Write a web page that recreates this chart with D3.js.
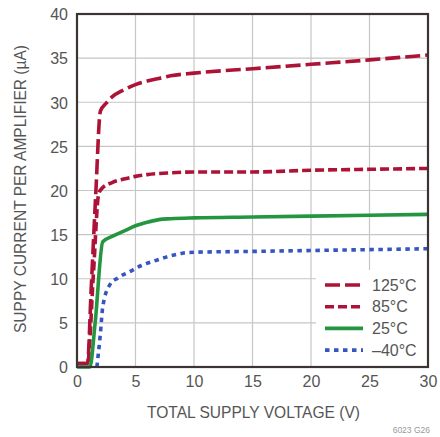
<!DOCTYPE html>
<html>
<head>
<meta charset="utf-8">
<script src="https://cdn.jsdelivr.net/npm/d3@7"></script>
<style>
  html, body { margin: 0; padding: 0; background: #fff; }
  svg { display: block; font-family: "Liberation Sans", Arial, sans-serif; }
</style>
</head>
<body>
<svg id="chart" width="440" height="437"></svg>
<script>
// Supply current vs total supply voltage, one curve per temperature
const xTicks = [0, 5, 10, 15, 20, 25, 30];
const yTicks = [0, 5, 10, 15, 20, 25, 30, 35, 40];

const seriesNames = ["125°C", "85°C", "25°C", "–40°C"];

const v125 = [0, 0.9, 1.2, 1.6, 2.0, 2.5, 3, 4, 5, 6, 7, 8, 10, 15, 20, 25, 30];
const i125 = [0.4, 0.4, 8.5, 19.5, 29.0, 29.9, 30.6, 31.4, 32.0, 32.4, 32.7, 33.0, 33.3, 33.8, 34.3, 34.8, 35.35];

const v85 = [0, 0.9, 1.4, 1.85, 2.1, 3, 4, 5, 6, 8, 10, 15, 20, 25, 30];
const i85 = [0.4, 0.4, 10.5, 19.6, 20.2, 20.9, 21.3, 21.6, 21.8, 22.0, 22.1, 22.1, 22.3, 22.4, 22.5];

const v25 = [0, 1.1, 1.55, 2.2, 3, 4, 5, 6, 7, 8, 10, 15, 20, 25, 30];
const i25 = [0, 0, 5, 14.2, 14.8, 15.4, 16.0, 16.4, 16.7, 16.8, 16.9, 17.0, 17.1, 17.2, 17.3];

const vM40 = [1.7, 2.0, 2.2, 2.8, 3.5, 4.5, 5.5, 6.8, 8, 9, 10, 15, 20, 25, 30];
const iM40 = [0, 3.8, 6.8, 9.3, 10.1, 10.8, 11.5, 12.1, 12.6, 12.9, 13.0, 13.1, 13.2, 13.3, 13.4];

const series = [
  { name: seriesNames[0], v: v125, i: i125, color: "#ad1237", dash: "15,5" },
  { name: seriesNames[1], v: v85, i: i85, color: "#ad1237", dash: "9,4" },
  { name: seriesNames[2], v: v25, i: i25, color: "#23963f", dash: null },
  { name: seriesNames[3], v: vM40, i: iM40, color: "#3556c0", dash: "4.5,4.5" }
];

const svg = d3.select("#chart");
const plotL = 77, plotR = 428, plotT = 14, plotB = 367;

const x = d3.scaleLinear().domain([0, 30]).range([plotL, plotR]);
const y = d3.scaleLinear().domain([0, 40]).range([plotB, plotT]);

// grid
const grid = svg.append("g").attr("stroke", "#c6c6c6").attr("stroke-width", 1.2);
grid.selectAll("line.v").data(xTicks.slice(1, -1)).join("line")
  .attr("x1", d => x(d)).attr("x2", d => x(d)).attr("y1", plotT).attr("y2", plotB);
grid.selectAll("line.h").data(yTicks.slice(1, -1)).join("line")
  .attr("y1", d => y(d)).attr("y2", d => y(d)).attr("x1", plotL).attr("x2", plotR);

// legend background covers the grid in the lower right
svg.append("rect").attr("x", 316).attr("y", 270).attr("width", plotR - 316).attr("height", plotB - 270)
  .attr("fill", "#fff");

// axes (labels only; frame drawn separately)
const xAxis = d3.axisBottom(x).tickValues(xTicks).tickSize(0).tickPadding(9);
const yAxis = d3.axisLeft(y).tickValues(yTicks).tickSize(0).tickPadding(9);
const gx = svg.append("g").attr("transform", `translate(0,${plotB})`).call(xAxis);
const gy = svg.append("g").attr("transform", `translate(${plotL},0)`).call(yAxis);
[gx, gy].forEach(g => {
  g.select(".domain").remove();
  g.selectAll("text").attr("fill", "#555").style("font-size", "16px")
    .style("font-family", "'Liberation Sans', Arial, sans-serif");
});
gy.selectAll("text").attr("dy", "0.36em");

// curves
const line = d3.line().x(d => x(d[0])).y(d => y(d[1])).curve(d3.curveMonotoneX);
series.forEach(s => {
  const pts = s.v.map((v, k) => [v, s.i[k]]);
  svg.append("path").datum(pts)
    .attr("d", line)
    .attr("fill", "none")
    .attr("stroke", s.color)
    .attr("stroke-width", 3.6)
    .attr("stroke-dasharray", s.dash)
    .attr("stroke-linejoin", "round");
});

// frame
svg.append("rect").attr("x", plotL).attr("y", plotT).attr("width", plotR - plotL).attr("height", plotB - plotT)
  .attr("fill", "none").attr("stroke", "#3b3432").attr("stroke-width", 2.2);

// legend
const leg = svg.append("g");
series.forEach((s, k) => {
  const ly = 285 + k * 21.7;
  leg.append("line").attr("x1", 325).attr("x2", 363).attr("y1", ly).attr("y2", ly)
    .attr("stroke", s.color).attr("stroke-width", 3.6).attr("stroke-dasharray", s.dash);
  leg.append("text").attr("x", 372).attr("y", ly).attr("dy", "0.36em")
    .attr("fill", "#555").style("font-size", "16px").text(s.name);
});

// axis titles
svg.append("text").attr("x", (plotL + plotR) / 2 + 1).attr("y", 418)
  .attr("text-anchor", "middle").attr("fill", "#555").style("font-size", "16.5px")
  .attr("textLength", 213).attr("lengthAdjust", "spacingAndGlyphs")
  .text("TOTAL SUPPLY VOLTAGE (V)");

svg.append("text").attr("transform", "translate(26,189) rotate(-90)")
  .attr("text-anchor", "middle").attr("fill", "#555").style("font-size", "16.5px")
  .attr("textLength", 288).attr("lengthAdjust", "spacingAndGlyphs")
  .text("SUPPY CURRENT PER AMPLIFIER (µA)");

svg.append("text").attr("x", 430).attr("y", 433).attr("text-anchor", "end")
  .attr("fill", "#999").style("font-size", "8.5px").text("6023 G26");
</script>
</body>
</html>
